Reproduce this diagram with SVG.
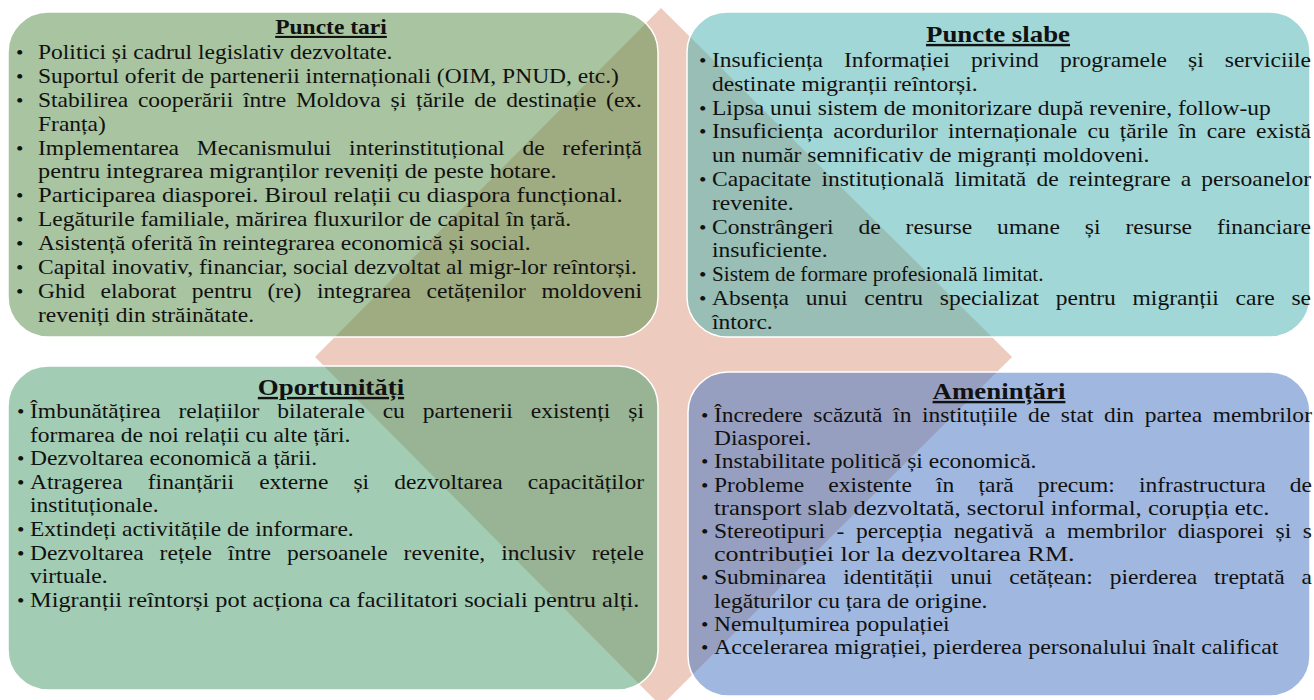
<svg xmlns="http://www.w3.org/2000/svg" width="1314" height="700" viewBox="0 0 1314 700">
<style>
.box{stroke:#ffffff;stroke-width:1.5;fill-opacity:0.5}
.t{font-family:"Liberation Serif","Times New Roman",serif;font-size:21px;fill:#111}
.b{font-family:"Liberation Serif","Times New Roman",serif;font-size:19px;fill:#111}
.h{font-family:"Liberation Serif","Times New Roman",serif;font-size:24px;font-weight:bold;fill:#111;text-decoration:underline;text-anchor:middle}
.hs{font-size:21px}
</style>
<rect width="1314" height="700" fill="#ffffff"/>
<g id="background">
<polygon points="661,8 1012,357 661,706 315,357" fill="#EDCCBF"/>
</g>
<g id="connectors"></g>
<g id="puncte-tari">
<rect class="box" x="8" y="12" width="650" height="325" rx="40" fill="#518941"/>
<text class="h hs" transform="translate(331,34) scale(1.12,1)">Puncte tari</text>
<g transform="translate(38,0) scale(1.12,1)">
<g class="b"><text x="-19.6" y="59">•</text><text x="-19.6" y="82.9">•</text><text x="-19.6" y="106.8">•</text><text x="-19.6" y="154.6">•</text><text x="-19.6" y="202.4">•</text><text x="-19.6" y="226.3">•</text><text x="-19.6" y="250.2">•</text><text x="-19.6" y="274.1">•</text><text x="-19.6" y="298">•</text></g>
<text class="t" x="0" y="59">Politici și cadrul legislativ dezvoltate.</text>
<text class="t" x="0" y="82.9">Suportul oferit de partenerii internaționali (OIM, PNUD, etc.)</text>
<text class="t" x="0" y="106.8" word-spacing="3.5" textLength="539.3" lengthAdjust="spacing">Stabilirea cooperării între Moldova și țările de destinație (ex.</text>
<text class="t" x="0" y="130.7">Franța)</text>
<text class="t" x="0" y="154.6" word-spacing="10.6" textLength="539.3" lengthAdjust="spacing">Implementarea Mecanismului interinstituțional de referință</text>
<text class="t" x="0" y="178.5" textLength="463" lengthAdjust="spacingAndGlyphs">pentru integrarea migranților reveniți de peste hotare.</text>
<text class="t" x="0" y="202.4" textLength="522" lengthAdjust="spacingAndGlyphs">Participarea diasporei. Biroul relații cu diaspora funcțional.</text>
<text class="t" x="0" y="226.3">Legăturile familiale, mărirea fluxurilor de capital în țară.</text>
<text class="t" x="0" y="250.2">Asistență oferită în reintegrarea economică și social.</text>
<text class="t" x="0" y="274.1">Capital inovativ, financiar, social dezvoltat al migr-lor reîntorși.</text>
<text class="t" x="0" y="298" word-spacing="8.6" textLength="539.3" lengthAdjust="spacing">Ghid elaborat pentru (re) integrarea cetățenilor moldoveni</text>
<text class="t" x="0" y="321.9">reveniți din străinătate.</text>
</g>
</g>
<g id="puncte-slabe">
<rect class="box" x="687" y="12" width="623" height="325" rx="40" fill="#43AFAD"/>
<text class="h" transform="translate(998,42) scale(1.12,1)">Puncte slabe</text>
<g transform="translate(712,0) scale(1.12,1)">
<g class="b"><text x="-11.6" y="67">•</text><text x="-11.6" y="114.6">•</text><text x="-11.6" y="138.4">•</text><text x="-11.6" y="186">•</text><text x="-11.6" y="233.6">•</text><text x="-11.6" y="281.2">•</text><text x="-11.6" y="305">•</text></g>
<text class="t" x="0" y="67" word-spacing="13.6" textLength="534.8" lengthAdjust="spacing">Insuficiența Informației privind programele și serviciile</text>
<text class="t" x="0" y="90.8">destinate migranții reîntorși.</text>
<text class="t" x="0" y="114.6">Lipsa unui sistem de monitorizare după revenire, follow-up</text>
<text class="t" x="0" y="138.4" word-spacing="3.8" textLength="534.8" lengthAdjust="spacing">Insuficiența acordurilor internaționale cu țările în care există</text>
<text class="t" x="0" y="162.2">un număr semnificativ de migranți moldoveni.</text>
<text class="t" x="0" y="186" word-spacing="3.8" textLength="534.8" lengthAdjust="spacing">Capacitate instituțională limitată de reintegrare a persoanelor</text>
<text class="t" x="0" y="209.8">revenite.</text>
<text class="t" x="0" y="233.6" word-spacing="17" textLength="534.8" lengthAdjust="spacing">Constrângeri de resurse umane și resurse financiare</text>
<text class="t" x="0" y="257.4">insuficiente.</text>
<text class="t" x="0" y="281.2" textLength="296" lengthAdjust="spacingAndGlyphs">Sistem de formare profesională limitat.</text>
<text class="t" x="0" y="305" word-spacing="9.7" textLength="534.8" lengthAdjust="spacing">Absența unui centru specializat pentru migranții care se</text>
<text class="t" x="0" y="328.8">întorc.</text>
</g>
</g>
<g id="oportunitati">
<rect class="box" x="8" y="366" width="650" height="324" rx="40" fill="#459B69"/>
<text class="h" transform="translate(331,395) scale(1.12,1)">Oportunități</text>
<g transform="translate(30,0) scale(1.12,1)">
<g class="b"><text x="-11.6" y="418">•</text><text x="-11.6" y="465.2">•</text><text x="-11.6" y="488.8">•</text><text x="-11.6" y="536">•</text><text x="-11.6" y="559.6">•</text><text x="-11.6" y="606.8">•</text></g>
<text class="t" x="0" y="418" word-spacing="10.7" textLength="548.2" lengthAdjust="spacing">Îmbunătățirea relațiilor bilaterale cu partenerii existenți și</text>
<text class="t" x="0" y="441.6">formarea de noi relații cu alte țări.</text>
<text class="t" x="0" y="465.2">Dezvoltarea economică a țării.</text>
<text class="t" x="0" y="488.8" word-spacing="17.2" textLength="548.2" lengthAdjust="spacing">Atragerea finanțării externe și dezvoltarea capacităților</text>
<text class="t" x="0" y="512.4">instituționale.</text>
<text class="t" x="0" y="536">Extindeți activitățile de informare.</text>
<text class="t" x="0" y="559.6" word-spacing="9" textLength="548.2" lengthAdjust="spacing">Dezvoltarea rețele între persoanele revenite, inclusiv rețele</text>
<text class="t" x="0" y="583.2">virtuale.</text>
<text class="t" x="0" y="606.8" textLength="544" lengthAdjust="spacingAndGlyphs">Migranții reîntorși pot acționa ca facilitatori sociali pentru alți.</text>
</g>
</g>
<g id="amenintari">
<rect class="box" x="688" y="372" width="622" height="324" rx="40" fill="#4171C1"/>
<text class="h" transform="translate(999,399) scale(1.12,1)">Amenințări</text>
<g transform="translate(714,0) scale(1.12,1)">
<g class="b"><text x="-11.6" y="422">•</text><text x="-11.6" y="468.4">•</text><text x="-11.6" y="491.6">•</text><text x="-11.6" y="538">•</text><text x="-11.6" y="584.4">•</text><text x="-11.6" y="630.8">•</text><text x="-11.6" y="654">•</text></g>
<text class="t" x="0" y="422" word-spacing="4.2" textLength="533.9" lengthAdjust="spacing">Încredere scăzută în instituțiile de stat din partea membrilor</text>
<text class="t" x="0" y="445.2">Diasporei.</text>
<text class="t" x="0" y="468.4">Instabilitate politică și economică.</text>
<text class="t" x="0" y="491.6" word-spacing="16.3" textLength="533.9" lengthAdjust="spacing">Probleme existente în țară precum: infrastructura de</text>
<text class="t" x="0" y="514.8" textLength="496" lengthAdjust="spacingAndGlyphs">transport slab dezvoltată, sectorul informal, corupția etc.</text>
<text class="t" x="0" y="538" word-spacing="5.1" textLength="533.9" lengthAdjust="spacing">Stereotipuri - percepția negativă a membrilor diasporei și s</text>
<text class="t" x="0" y="561.2" textLength="322" lengthAdjust="spacingAndGlyphs">contribuției lor la dezvoltarea RM.</text>
<text class="t" x="0" y="584.4" word-spacing="9.9" textLength="533.9" lengthAdjust="spacing">Subminarea identității unui cetățean: pierderea treptată a</text>
<text class="t" x="0" y="607.6">legăturilor cu țara de origine.</text>
<text class="t" x="0" y="630.8">Nemulțumirea populației</text>
<text class="t" x="0" y="654" textLength="504" lengthAdjust="spacingAndGlyphs">Accelerarea migrației, pierderea personalului înalt calificat</text>
</g>
</g>
</svg>
